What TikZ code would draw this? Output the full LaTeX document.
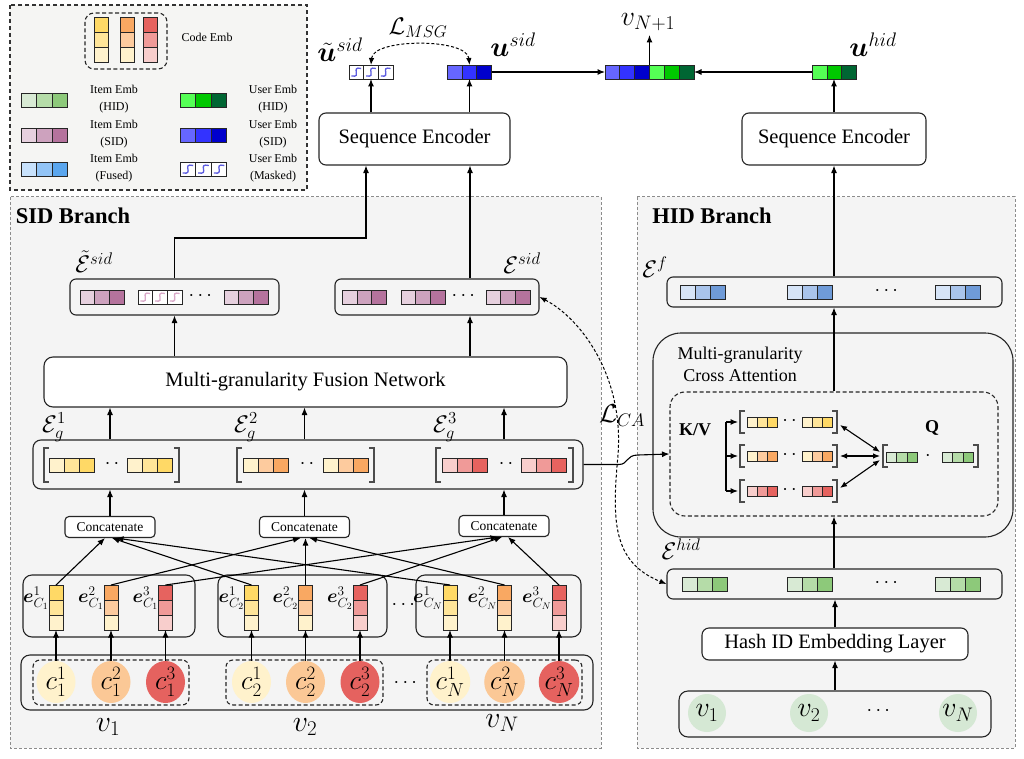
\RequirePackage{fix-cm}
\documentclass[tikz,border=0pt]{standalone}
\usepackage{amsmath,bm}
\usepackage[no-math]{fontspec}
\setmainfont{Liberation Serif}
\usetikzlibrary{arrows.meta,calc,shapes.geometric}

\definecolor{bgG}{HTML}{F4F4F4}
\definecolor{bgL}{HTML}{F5F5F3}
\definecolor{Y1}{HTML}{FFF2CC}
\definecolor{Y2}{HTML}{FFE599}
\definecolor{Y3}{HTML}{FFD966}
\definecolor{O1}{HTML}{FFF2CC}
\definecolor{O2}{HTML}{FDCB9E}
\definecolor{O3}{HTML}{F9A862}
\definecolor{R1}{HTML}{F8CECC}
\definecolor{R2}{HTML}{F09A98}
\definecolor{R3}{HTML}{E6635F}
\definecolor{P1}{HTML}{E6D0DE}
\definecolor{P2}{HTML}{CDA2BE}
\definecolor{P3}{HTML}{B5739D}
\definecolor{B1}{HTML}{D6E4F7}
\definecolor{B2}{HTML}{A9C4EB}
\definecolor{B3}{HTML}{6F9BD8}
\definecolor{LB1}{HTML}{C8E2FC}
\definecolor{LB2}{HTML}{92C4F6}
\definecolor{LB3}{HTML}{5AA6EE}
\definecolor{G1}{HTML}{D8EAD4}
\definecolor{G2}{HTML}{B5DCA8}
\definecolor{G3}{HTML}{8DC97A}
\definecolor{U1}{HTML}{6666FF}
\definecolor{U2}{HTML}{3333FF}
\definecolor{U3}{HTML}{0000CC}
\definecolor{H1}{HTML}{55FF55}
\definecolor{H2}{HTML}{00C800}
\definecolor{H3}{HTML}{006633}
\definecolor{C1}{HTML}{FFF2CC}
\definecolor{C2}{HTML}{FBC896}
\definecolor{C3}{HTML}{E5625F}
\definecolor{VG}{HTML}{D5E8D4}
\definecolor{MB}{HTML}{5C5CE0}
\definecolor{MP}{HTML}{D9A8C8}

\tikzset{
 conn/.style={line width=1.1pt, -{Latex[length=7.5pt,width=6pt]}},
 dconn/.style={line width=1.1pt, {Latex[length=7pt,width=5.5pt]}-{Latex[length=7pt,width=5.5pt]}},
 dashconn/.style={line width=1pt, dash pattern=on 3pt off 2pt, {Latex[length=7pt,width=5.5pt]}-{Latex[length=7pt,width=5.5pt]}},
 plain/.style={line width=1.1pt},
 wbox/.style={draw=black!85, line width=1.1pt, fill=white, rounded corners=7pt, inner sep=0pt},
 gbox/.style={draw=black!85, line width=1.1pt, fill=bgG, rounded corners=6pt, inner sep=0pt},
 cellsty/.style={draw=black!85, line width=0.9pt},
 branch/.style={draw=black!45, dash pattern=on 3pt off 2pt, line width=1pt, fill=bgG},
 legbox/.style={draw=black!80, dash pattern=on 4pt off 3pt, line width=1.3pt, fill=bgL},
 dbox/.style={draw=black!85, dash pattern=on 4pt off 2.5pt, line width=1.1pt, rounded corners=7pt, inner sep=0pt},
 brk/.style={draw=black!70, line width=1.3pt},
 vnode/.style={inner sep=0pt, outer sep=0pt},
 mainlab/.style={font=\fontsize{20.5}{24}\selectfont},
 smalllab/.style={font=\fontsize{13.5}{16}\selectfont},
 legtext/.style={font=\fontsize{12}{17}\selectfont, align=center, inner sep=0pt},
 brtitle/.style={font=\fontsize{22.5}{26}\selectfont\bfseries, inner sep=0pt},
 mlabE/.style={font=\fontsize{24}{28}\selectfont, inner sep=0pt},
 mlabU/.style={font=\fontsize{28}{32}\selectfont, inner sep=0pt},
 mlabV/.style={font=\fontsize{30}{34}\selectfont, inner sep=0pt},
 mlabL/.style={font=\fontsize{24}{28}\selectfont, inner sep=0pt},
 elab/.style={font=\fontsize{19}{22}\selectfont, inner sep=0pt},
 dots/.style={font=\fontsize{20}{24}\selectfont, inner sep=0pt},
 circ/.style={ellipse, inner sep=0pt, minimum width=39pt, minimum height=42pt, font=\fontsize{27}{30}\selectfont},
}

% name, cx, cy, cell w, cell h, c1, c2, c3
\newcommand\vecn[8]{%
 \node[vnode, minimum width={3*#4}, minimum height=#5] (#1) at (#2,#3) {};
 \draw[cellsty, fill=#6] (#1.north west) rectangle ++(#4,#5);
 \draw[cellsty, fill=#7] ($(#1.north west)+(#4,0)$) rectangle ++(#4,#5);
 \draw[cellsty, fill=#8] ($(#1.north west)+(2*#4,0)$) rectangle ++(#4,#5);
}
% name, cx, cy, cell w, cell h, squiggle colour
\newcommand\maskvec[6]{%
 \node[vnode, minimum width={3*#4}, minimum height=#5] (#1) at (#2,#3) {};
 \foreach \i in {0,1,2}{%
  \draw[cellsty, fill=white] ($(#1.north west)+(\i*#4,0)$) rectangle ++(#4,#5);
  \draw[#6, line width=1.3pt] ($(#1.north west)+(\i*#4+2.5,0.78*#5)$) .. controls ($(#1.north west)+(\i*#4+0.95*#4,0.95*#5)$) and ($(#1.north west)+(\i*#4+0.05*#4,0.05*#5)$) .. ($(#1.north west)+(\i*#4+#4-2.5,0.25*#5)$);
 }%
}
% vertical code bar: name, cx, cy, w, cell h, top, mid, bottom
\newcommand\codebar[8]{%
 \node[vnode, minimum width=#4, minimum height={3*#5}] (#1) at (#2,#3) {};
 \draw[cellsty, fill=#6] (#1.north west) rectangle ++(#4,#5);
 \draw[cellsty, fill=#7] ($(#1.north west)+(0,#5)$) rectangle ++(#4,#5);
 \draw[cellsty, fill=#8] ($(#1.north west)+(0,2*#5)$) rectangle ++(#4,#5);
}
\newcommand\lbrk[3]{\draw[brk] ({#1+5},#2) -- (#1,#2) -- (#1,#3) -- ({#1+5},#3);}
\newcommand\rbrk[3]{\draw[brk] ({#1-5},#2) -- (#1,#2) -- (#1,#3) -- ({#1-5},#3);}

\begin{document}
\begin{tikzpicture}[x=1pt,y=-1pt]
\useasboundingbox (0,0) rectangle (1024,759);

% ---------------- legend ----------------
\draw[legbox] (10,5) rectangle (307,190);
\node[dbox, minimum width=82pt, minimum height=56pt, rounded corners=9pt] (cegrp) at (126,41) {};
\codebar{lb1}{101}{40}{14}{14.7}{Y3}{Y2}{Y1}
\codebar{lb2}{127}{40}{14}{14.7}{O3}{O2}{O1}
\codebar{lb3}{150}{40}{14}{14.7}{R3}{R2}{R1}
\node[legtext] (tcode) at (207,37) {Code Emb};
\vecn{lih}{44.5}{100}{15.6}{14}{G1}{G2}{G3}
\vecn{lis}{44.5}{135}{15.6}{14}{P1}{P2}{P3}
\vecn{lif}{44.5}{169}{15.6}{14}{LB1}{LB2}{LB3}
\vecn{luh}{203.5}{100}{15.6}{14}{H1}{H2}{H3}
\vecn{lus}{203.5}{135}{15.6}{14}{U1}{U2}{U3}
\maskvec{lum}{203.5}{169}{15.6}{14}{MB}
\node[legtext] (tih) at (114,99.5) {Item Emb\\(HID)};
\node[legtext] (tis) at (114,134.5) {Item Emb\\(SID)};
\node[legtext] (tif) at (114,168.5) {Item Emb\\(Fused)};
\node[legtext] (tuh) at (273,99.5) {User Emb\\(HID)};
\node[legtext] (tus) at (273,134.5) {User Emb\\(SID)};
\node[legtext] (tum) at (273,168.5) {User Emb\\(Masked)};

% ---------------- branches ----------------
\draw[branch] (10,197) rectangle (601,748);
\draw[branch] (637,197) rectangle (1015,748);
\node[brtitle] (sidt) at (73,216) {SID Branch};
\node[brtitle] (hidt) at (712,216) {HID Branch};

% ---------------- top ----------------
\node[wbox, mainlab, minimum width=191pt, minimum height=52pt] (seqL) at (414.5,139) {Sequence Encoder};
\node[wbox, mainlab, minimum width=184pt, minimum height=52pt] (seqR) at (834,139) {Sequence Encoder};
\maskvec{ut}{371}{72}{14.7}{14}{MB}
\vecn{us}{469.5}{72}{14.7}{14}{U1}{U2}{U3}
\node[vnode, minimum width=89pt, minimum height=14pt] (comb) at (649.5,72) {};
\foreach \c [count=\i from 0] in {U1,U2,U3,H1,H2,H3}
  \draw[cellsty, fill=\c] ($(comb.north west)+(\i*14.83,0)$) rectangle ++(14.83,14);
\vecn{uh}{834.5}{72}{14.8}{14}{H1}{H2}{H3}
\node[mlabU] (lut) at (340,50) {$\tilde{\bm{u}}^{sid}$};
\node[mlabU] (lusid) at (513,45) {$\bm{u}^{sid}$};
\node[mlabU] (luhid) at (873,45) {$\bm{u}^{hid}$};
\node[mlabU] (lvn) at (648,22) {$v_{N+1}$};
\node[mlabL] (lmsg) at (418,28) {$\mathcal{L}_{MSG}$};

\draw[conn] (ut.south |- seqL.north) -- (ut.south);
\draw[conn] (us.south |- seqL.north) -- (us.south);
\draw[conn] (seqR.north) -- (seqR.north |- uh.south);
\draw[conn] (us.east) -- (comb.west);
\draw[conn] (uh.west) -- (comb.east);
\draw[conn] (comb.north) -- ++(0,-30);
\draw[dashconn] (ut.north) .. controls (373,38) and (467,38) .. (us.north);

% ---------------- SID branch ----------------
\node[gbox, minimum width=209pt, minimum height=36pt] (Etbox) at (174.5,297) {};
\node[gbox, minimum width=204pt, minimum height=36pt] (Esbox) at (437,297) {};
\vecn{et1}{102}{297}{14.7}{14}{P1}{P2}{P3}
\maskvec{et2}{160}{297}{14.7}{14}{MP}
\node[dots] (etd) at (202,296) {$\cdots$};
\vecn{et3}{246}{297}{14.7}{14}{P1}{P2}{P3}
\vecn{es1}{364.5}{297}{14.7}{14}{P1}{P2}{P3}
\vecn{es2}{423}{297}{14.7}{14}{P1}{P2}{P3}
\node[dots] (esd) at (465,296) {$\cdots$};
\vecn{es3}{508}{297}{14.7}{14}{P1}{P2}{P3}
\node[mlabE] (lEt) at (94,262) {$\tilde{\mathcal{E}}^{sid}$};
\node[mlabE] (lEs) at (522,263) {$\mathcal{E}^{sid}$};

\node[wbox, mainlab, minimum width=523pt, minimum height=50pt, rounded corners=9pt] (MFN) at (305.5,382) {Multi-granularity Fusion Network};

\node[gbox, minimum width=550pt, minimum height=49pt, rounded corners=8pt] (Egbox) at (308,464.5) {};
\lbrk{44}{448}{482}\rbrk{179}{448}{482}
\lbrk{237}{448}{482}\rbrk{374}{448}{482}
\lbrk{436}{448}{482}\rbrk{573}{448}{482}
\vecn{g1a}{71.5}{465}{15}{14}{Y1}{Y2}{Y3}
\vecn{g1b}{150}{465}{15}{14}{Y1}{Y2}{Y3}
\node[dots] (g1d) at (112,464) {$\cdot\,\cdot$};
\vecn{g2a}{266}{465}{15}{14}{O1}{O2}{O3}
\vecn{g2b}{345.5}{465}{15}{14}{O1}{O2}{O3}
\node[dots] (g2d) at (307,464) {$\cdot\,\cdot$};
\vecn{g3a}{465}{465}{15}{14}{R1}{R2}{R3}
\vecn{g3b}{543.5}{465}{15}{14}{R1}{R2}{R3}
\node[dots] (g3d) at (506,464) {$\cdot\,\cdot$};
\node[mlabE] (lg1) at (54,427) {$\mathcal{E}_g^1$};
\node[mlabE] (lg2) at (246,427) {$\mathcal{E}_g^2$};
\node[mlabE] (lg3) at (445,427) {$\mathcal{E}_g^3$};

\node[wbox, smalllab, minimum width=90pt, minimum height=21pt, rounded corners=4pt] (cat1) at (110,527) {Concatenate};
\node[wbox, smalllab, minimum width=90pt, minimum height=21pt, rounded corners=4pt] (cat2) at (304.5,527) {Concatenate};
\node[wbox, smalllab, minimum width=90pt, minimum height=21pt, rounded corners=4pt] (cat3) at (504,526) {Concatenate};

\node[gbox, minimum width=172pt, minimum height=62pt, rounded corners=9pt] (cg1) at (109,606) {};
\node[gbox, minimum width=169pt, minimum height=62pt, rounded corners=9pt] (cg2) at (302.5,606) {};
\node[gbox, minimum width=165pt, minimum height=62pt, rounded corners=9pt] (cg3) at (498.5,606) {};
\node[dots] (cgd) at (405,605) {$\cdots$};

\codebar{b11}{56}{607.5}{14}{15}{Y3}{Y2}{Y1}
\codebar{b12}{111}{607.5}{14}{15}{O3}{O2}{O1}
\codebar{b13}{165.5}{607.5}{14}{15}{R3}{R2}{R1}
\codebar{b21}{251.5}{607.5}{14}{15}{Y3}{Y2}{Y1}
\codebar{b22}{305.5}{607.5}{14}{15}{O3}{O2}{O1}
\codebar{b23}{360}{607.5}{14}{15}{R3}{R2}{R1}
\codebar{b31}{450}{607.5}{14}{15}{Y3}{Y2}{Y1}
\codebar{b32}{504.5}{607.5}{14}{15}{O3}{O2}{O1}
\codebar{b33}{559}{607.5}{14}{15}{R3}{R2}{R1}
\node[elab, anchor=east] (e11) at ($(b11.west)+(0,-9)$) {$\bm{e}_{C_1}^1$};
\node[elab, anchor=east] (e12) at ($(b12.west)+(0,-9)$) {$\bm{e}_{C_1}^2$};
\node[elab, anchor=east] (e13) at ($(b13.west)+(0,-9)$) {$\bm{e}_{C_1}^3$};
\node[elab, anchor=east] (e21) at ($(b21.west)+(0,-9)$) {$\bm{e}_{C_2}^1$};
\node[elab, anchor=east] (e22) at ($(b22.west)+(0,-9)$) {$\bm{e}_{C_2}^2$};
\node[elab, anchor=east] (e23) at ($(b23.west)+(0,-9)$) {$\bm{e}_{C_2}^3$};
\node[elab, anchor=east] (e31) at ($(b31.west)+(0,-9)$) {$\bm{e}_{C_N}^1$};
\node[elab, anchor=east] (e32) at ($(b32.west)+(0,-9)$) {$\bm{e}_{C_N}^2$};
\node[elab, anchor=east] (e33) at ($(b33.west)+(0,-9)$) {$\bm{e}_{C_N}^3$};

\node[gbox, minimum width=572pt, minimum height=55pt, rounded corners=9pt] (items) at (307,682.5) {};
\node[dbox, minimum width=156pt, minimum height=45pt] (ig1) at (111,682.5) {};
\node[dbox, minimum width=157pt, minimum height=45pt] (ig2) at (304.5,682.5) {};
\node[dbox, minimum width=155pt, minimum height=45pt] (ig3) at (504.5,682.5) {};
\node[dots] (igd) at (407,683) {$\cdots$};
\node[circ, fill=C1] (c11) at (56,682) {$c_1^1$};
\node[circ, fill=C2] (c12) at (111,682) {$c_1^2$};
\node[circ, fill=C3] (c13) at (165.5,682) {$c_1^3$};
\node[circ, fill=C1] (c21) at (251.5,682) {$c_2^1$};
\node[circ, fill=C2] (c22) at (305.5,682) {$c_2^2$};
\node[circ, fill=C3] (c23) at (360,682) {$c_2^3$};
\node[circ, fill=C1] (c31) at (450,682) {$c_N^1$};
\node[circ, fill=C2] (c32) at (504.5,682) {$c_N^2$};
\node[circ, fill=C3] (c33) at (559,682) {$c_N^3$};
\node[mlabV] (lv1) at (108,727) {$v_1$};
\node[mlabV] (lv2) at (305,727) {$v_2$};
\node[mlabV] (lvN) at (502,723) {$v_N$};

% SID connectors
\foreach \g in {1,2,3}{\foreach \k in {1,2,3}{\draw[conn] (c\g\k.north) -- (b\g\k.south);}}
\draw[conn] (b11.north) -- ($(cat1.south)+(-5,0)$);
\draw[conn] (b21.north) -- ($(cat1.south)+(2,0)$);
\draw[conn] (b31.north) -- ($(cat1.south)+(6,0)$);
\draw[conn] (b12.north) -- ($(cat2.south)+(-4,0)$);
\draw[conn] (b22.north) -- ($(cat2.south)+(1,0)$);
\draw[conn] (b32.north) -- ($(cat2.south)+(5,0)$);
\draw[conn] (b13.north) -- ($(cat3.south)+(-6,0)$);
\draw[conn] (b23.north) -- ($(cat3.south)+(-2,0)$);
\draw[conn] (b33.north) -- ($(cat3.south)+(4,0)$);
\foreach \k in {1,2,3}{
  \draw[conn] (cat\k.north) -- (cat\k.north |- Egbox.south);
  \draw[conn] (cat\k.north |- Egbox.north) -- (cat\k.north |- MFN.south);
}
\coordinate (xr) at (470,0);
\coordinate (jL) at (366,238);
\draw[conn] (Etbox.south |- MFN.north) -- (Etbox.south);
\draw[conn] (xr |- MFN.north) -- (xr |- Esbox.south);
\draw[conn] (xr |- Esbox.north) -- (xr |- seqL.south);
\draw[conn] (Etbox.north) |- (jL) -- (jL |- seqL.south);

% ---------------- HID branch ----------------
\node[gbox, minimum width=335pt, minimum height=30pt] (Efbox) at (834.5,292) {};
\vecn{f1}{703}{292}{15}{14}{B1}{B2}{B3}
\vecn{f2}{809.5}{292}{15}{14}{B1}{B2}{B3}
\node[dots] (fd) at (888,291) {$\cdots$};
\vecn{f3}{958}{292}{15}{14}{B1}{B2}{B3}
\node[mlabE] (lEf) at (655,267) {$\mathcal{E}^f$};

\node[draw=black!85, line width=1.1pt, fill=bgG, rounded corners=28pt, minimum width=360pt, minimum height=204pt] (MGCA) at (833,435) {};
\node[font=\fontsize{18}{22}\selectfont, align=center, inner sep=0pt] (tmgca) at (740,364) {Multi-granularity\\Cross Attention};
\node[dbox, minimum width=328pt, minimum height=124pt, rounded corners=15pt] (KV) at (834,454) {};
\node[font=\fontsize{18}{22}\selectfont\bfseries, inner sep=0pt] (tkv) at (695,430) {K/V};
\node[font=\fontsize{18}{22}\selectfont\bfseries, inner sep=0pt] (tq) at (932,428) {Q};

\foreach \r/\y/\ca/\cb/\cc in {1/422/Y1/Y2/Y3, 2/456/O1/O2/O3, 3/491/R1/R2/R3}{
  \node[vnode, minimum width=97pt, minimum height=22pt] (row\r) at (788.5,\y) {};
  \lbrk{740}{\y-11}{\y+11}\rbrk{837}{\y-11}{\y+11}
  \vecn{r\r a}{762}{\y}{10}{10}{\ca}{\cb}{\cc}
  \vecn{r\r b}{817}{\y}{10}{10}{\ca}{\cb}{\cc}
  \node[dots] at (789.5,\y-1) {$\cdot\,\cdot$};
}
\node[vnode, minimum width=95pt, minimum height=22pt] (qv) at (930.5,456) {};
\lbrk{883}{445}{467}\rbrk{978}{445}{467}
\vecn{q1}{902}{457}{10.3}{10}{G1}{G2}{G3}
\vecn{q2}{958}{457}{10.3}{10}{G1}{G2}{G3}
\node[dots] (qd) at (928,456) {$\cdot$};

\coordinate (brx) at (726,0);
\draw[plain] (brx |- row1.west) -- (brx |- row3.west);
\foreach \r in {1,2,3}{\draw[conn] (brx |- row\r.west) -- ($(row\r.west)+(-2,0)$);}
\draw[dconn] ($(row1.east)+(3,3)$) -- ($(qv.west)+(-3,-4)$);
\draw[dconn] ($(row2.east)+(3,0)$) -- ($(qv.west)+(-3,0)$);
\draw[dconn] ($(row3.east)+(3,-3)$) -- ($(qv.west)+(-3,4)$);

\node[gbox, minimum width=335pt, minimum height=30pt] (Ehbox) at (834.5,584) {};
\vecn{h1}{704.5}{584}{15}{14}{G1}{G2}{G3}
\vecn{h2}{809.5}{584}{15}{14}{G1}{G2}{G3}
\node[dots] (hd) at (888,583) {$\cdots$};
\vecn{h3}{958}{584}{15}{14}{G1}{G2}{G3}
\node[mlabE] (lEh) at (681,549) {$\mathcal{E}^{hid}$};

\node[wbox, mainlab, minimum width=266pt, minimum height=32pt] (hash) at (835,644) {Hash ID Embedding Layer};
\node[gbox, minimum width=312pt, minimum height=46pt, rounded corners=9pt] (hitems) at (835,714) {};
\node[circle, fill=VG, minimum size=38pt, inner sep=0pt, font=\fontsize{28}{30}\selectfont] (hv1) at (707,713) {$v_1$};
\node[circle, fill=VG, minimum size=38pt, inner sep=0pt, font=\fontsize{28}{30}\selectfont] (hv2) at (809,713) {$v_2$};
\node[dots] (hvd) at (880,711) {$\cdots$};
\node[circle, fill=VG, minimum size=38pt, inner sep=0pt, font=\fontsize{28}{30}\selectfont] (hvN) at (958,713) {$v_N$};

% HID connectors
\draw[conn] (Efbox.north -| seqR.south) -- (seqR.south);
\draw[conn] (KV.north) -- (KV.north |- Efbox.south);
\draw[conn] (KV.south |- Ehbox.north) -- (KV.south);
\draw[conn] (hash.north) -- (hash.north |- Ehbox.south);
\draw[conn] (hash.south |- hitems.north) -- (hash.south);

% cross-branch
\draw[conn] (Egbox.east) -- (619,464.5) .. controls (628,464.5) and (626,455) .. (638,455) -- (KV.west);
\draw[dashconn] (Esbox.east) .. controls (580,318) and (624,375) .. (618,455) .. controls (612,520) and (612,562) .. (Ehbox.west);
\node[font=\fontsize{26}{30}\selectfont, inner sep=0pt] (lca) at (622,416) {$\mathcal{L}_{CA}$};
\end{tikzpicture}
\end{document}
